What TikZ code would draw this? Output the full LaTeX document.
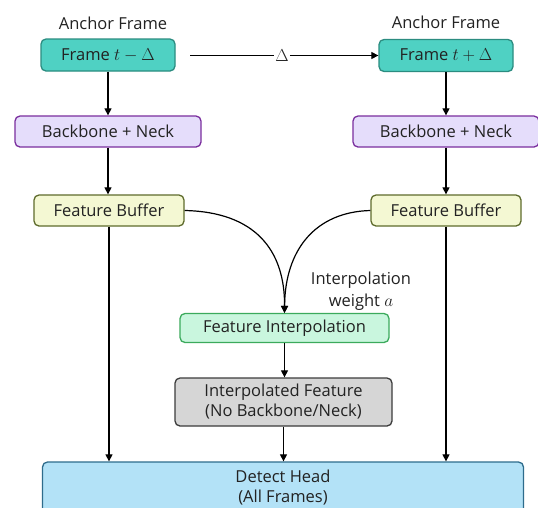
\documentclass[tikz,border=0pt]{standalone}
\usepackage{fontspec}
\setmainfont{Open Sans}
\usetikzlibrary{arrows.meta}
\definecolor{tealF}{HTML}{4FD1C3}
\definecolor{tealB}{HTML}{2B8C80}
\definecolor{bbF}{HTML}{E5DDFB}
\definecolor{bbB}{HTML}{7A2E9E}
\definecolor{fbF}{HTML}{F4F8D3}
\definecolor{fbB}{HTML}{5E6B2C}
\definecolor{fiF}{HTML}{C9F6DE}
\definecolor{fiB}{HTML}{3BAA5C}
\definecolor{gyF}{HTML}{D6D6D6}
\definecolor{gyB}{HTML}{3C3C3C}
\definecolor{dhF}{HTML}{B3E2F7}
\definecolor{dhB}{HTML}{2E6C8C}
\definecolor{txt}{HTML}{222222}
\begin{document}
\begin{tikzpicture}[x=1pt,y=-1pt,
  font=\fontsize{16.5}{20}\selectfont,
  box/.style={draw, rounded corners=5pt, line width=1.3pt, align=center, inner sep=0pt, text=txt},
  framebox/.style={box, fill=tealF, draw=tealB, minimum width=134pt, minimum height=32pt},
  bbbox/.style={box, fill=bbF, draw=bbB, minimum width=186pt, minimum height=31pt},
  fbbox/.style={box, fill=fbF, draw=fbB, minimum width=150pt, minimum height=31pt},
  fibox/.style={box, fill=fiF, draw=fiB, minimum width=209pt, minimum height=29pt},
  gybox/.style={box, fill=gyF, draw=gyB, minimum width=217pt, minimum height=48pt},
  dhbox/.style={box, fill=dhF, draw=dhB, minimum width=481pt, minimum height=51pt},
  plain/.style={text=txt, align=center, inner sep=1pt},
  arr/.style={-{Triangle[length=7pt,width=7pt]}, line width=1.2pt, black},
  ln/.style={line width=1.2pt, black}
]
\useasboundingbox (0,0) rectangle (538,507);
\fill[white] (0,0) rectangle (538,507);

\node[plain] (a1) at (113,23) {Anchor Frame};
\node[plain] (a2) at (446,22) {Anchor Frame};
\node[framebox] (f1) at (108,55) {Frame $t-\Delta$};
\node[framebox] (f2) at (446,55.5) {Frame $t+\Delta$};
\node[plain] (delta) at (282,55.5) {$\Delta$};
\coordinate (ls) at (190,55.5);

\node[bbbox] (b1) at (108,131.5) {Backbone + Neck};
\node[bbbox] (b2) at (446,131.5) {Backbone + Neck};
\node[fbbox] (fb1) at (109,210.5) {Feature Buffer};
\node[fbbox] (fb2) at (446,210.5) {Feature Buffer};
\node[plain, font=\fontsize{16.5}{22}\selectfont] (w) at (361,291) {Interpolation\\weight $a$};
\node[fibox] (fi) at (284.5,328) {Feature Interpolation};
\node[gybox] (gy) at (283.5,402) {Interpolated Feature\\(No Backbone/Neck)};
\node[dhbox, font=\fontsize{16.5}{20}\selectfont] (dh) at (283,487.5) {Detect Head\\(All Frames)};

\draw[ln] (ls) -- (delta);
\draw[arr] (delta) -- (f2.west);
\draw[arr] (f1) -- (b1);
\draw[arr] (f2) -- (b2);
\draw[arr] (b1) -- (fb1.north -| b1);
\draw[arr] (b2) -- (fb2.north -| b2);
\draw[arr] (fb1.east) .. controls (255,212) and (285,250) .. (fi.north);
\draw[arr] (fb2.west) .. controls (315,212) and (285,250) .. (fi.north);
\draw[arr] (fi) -- (gy.north -| fi);
\draw[arr] (gy) -- (dh.north -| gy);
\draw[arr] (fb1) -- (dh.north -| fb1);
\draw[arr] (fb2) -- (dh.north -| fb2);
\end{tikzpicture}
\end{document}
